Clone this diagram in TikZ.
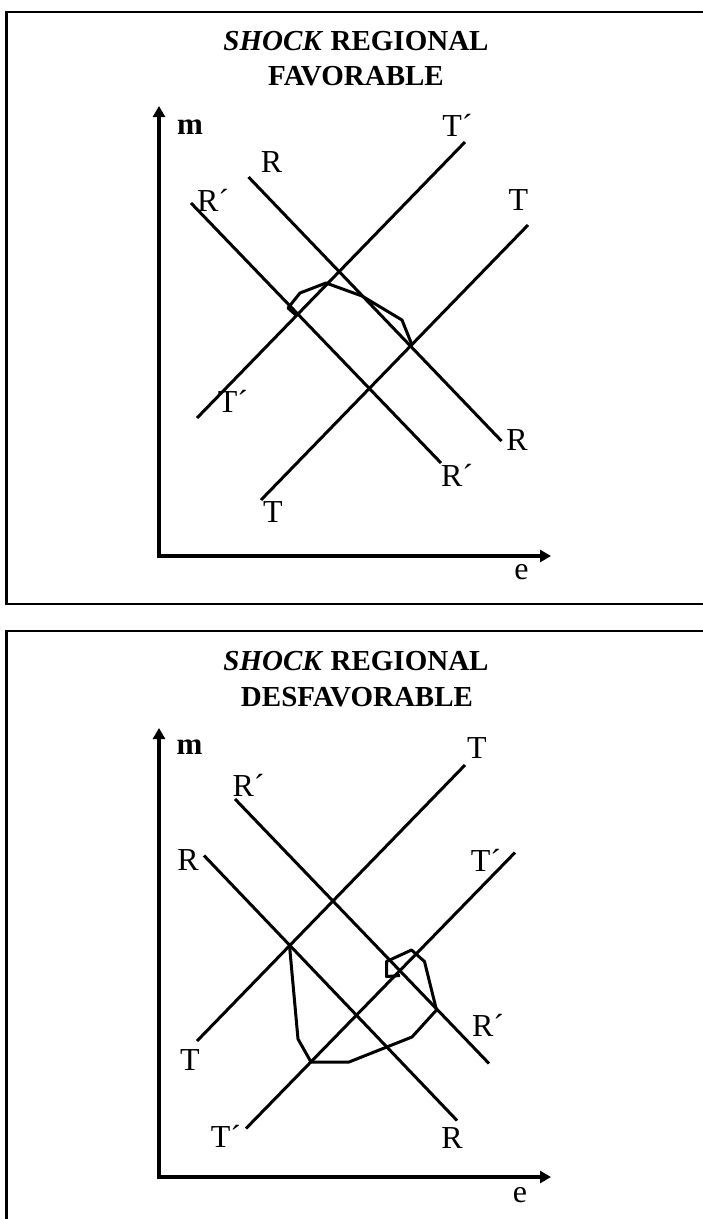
\documentclass[tikz,border=0pt]{standalone}
\usepackage{fontspec}
\setmainfont{Liberation Serif}
\usetikzlibrary{arrows.meta}

\begin{document}
\begin{tikzpicture}[
      x=1pt, y=-1pt,
      frame/.style={draw, line width=2.4pt},
      axis/.style={{Triangle[length=11pt,width=12pt]}-{Triangle[length=11pt,width=12pt]},
                   line width=3.3pt},
      curve/.style={line width=3pt, line join=round},
      lab/.style={inner sep=0pt, font=\fontsize{32}{32}\selectfont},
      ttl/.style={inner sep=0pt, anchor=base, font=\fontsize{29}{29}\selectfont\bfseries},
    ]
    \useasboundingbox (0,0) rectangle (702,1219);

    % shock regional favorable
    \draw[frame] (6.5,12) rectangle (705,604);
    \node[ttl] (ttl1) at (356,50.5) {\textit{SHOCK} REGIONAL};
    \node[ttl] (sub1) at (356,85.5) {FAVORABLE};
    \coordinate (o1) at (159,556);
    \coordinate (ym1) at (159,106);
    \coordinate (xm1) at (551,556);
    \draw[axis] (ym1) -- (o1) -- (xm1);
    \node[lab, font=\fontsize{31}{31}\selectfont\bfseries] (m1) at (190,127) {m};
    \node[lab] (e1) at (521.5,572.5) {e};

    \coordinate (tp1a) at (197,418);  \coordinate (tp1b) at (465,142);
    \coordinate (t1a) at (261,500);   \coordinate (t1b) at (528,225);
    \coordinate (r1a) at (248.5,177); \coordinate (r1b) at (501.5,441);
    \coordinate (rp1a) at (191,203);  \coordinate (rp1b) at (441,463);
    \draw[curve] (tp1a) -- (tp1b);
    \draw[curve] (t1a) -- (t1b);
    \draw[curve] (r1a) -- (r1b);
    \draw[curve] (rp1a) -- (rp1b);
    \node[lab] (ltp1b) at (457.5,125) {T´};
    \node[lab] (ltp1a) at (233,401) {T´};
    \node[lab] (lt1b) at (518.5,200) {T};
    \node[lab] (lt1a) at (273,512) {T};
    \node[lab] (lr1a) at (271.5,162) {R};
    \node[lab] (lr1b) at (517,440) {R};
    \node[lab] (lrp1a) at (213,200) {R´};
    \node[lab] (lrp1b) at (457,475) {R´};
    \draw[curve] (297,316) -- (288,308) -- (300,293) -- (326,283) -- (362,296)
      -- (402,320) -- (412,345);

    % shock regional desfavorable
    \draw[frame] (6.5,631) rectangle (705,1222);
    \node[ttl] (ttl2) at (356,670) {\textit{SHOCK} REGIONAL};
    \node[ttl] (sub2) at (357,706.5) {DESFAVORABLE};
    \coordinate (o2) at (159,1177);
    \coordinate (ym2) at (159,728);
    \coordinate (xm2) at (551,1177);
    \draw[axis] (ym2) -- (o2) -- (xm2);
    \node[lab, font=\fontsize{31}{31}\selectfont\bfseries] (m2) at (189.5,747.5) {m};
    \node[lab] (e2) at (520,1195) {e};

    \coordinate (t2a) at (197,1041);    \coordinate (t2b) at (465,765);
    \coordinate (tp2a) at (246,1128.5); \coordinate (tp2b) at (515,852.5);
    \coordinate (rp2a) at (235,799);    \coordinate (rp2b) at (489,1063.5);
    \coordinate (r2a) at (204,855.5);   \coordinate (r2b) at (457,1120.5);
    \draw[curve] (t2a) -- (t2b);
    \draw[curve] (tp2a) -- (tp2b);
    \draw[curve] (rp2a) -- (rp2b);
    \draw[curve] (r2a) -- (r2b);
    \node[lab] (lt2b) at (477,748) {T};
    \node[lab] (lt2a) at (190,1060.5) {T};
    \node[lab] (ltp2b) at (486,860.5) {T´};
    \node[lab] (ltp2a) at (226,1136) {T´};
    \node[lab] (lrp2a) at (248.5,785) {R´};
    \node[lab] (lrp2b) at (488,1025.5) {R´};
    \node[lab] (lr2a) at (188,860.5) {R};
    \node[lab] (lr2b) at (452,1138) {R};
    \draw[curve] (289.5,945.5) -- (298,1039) -- (311,1062) -- (349,1062) -- (412,1037)
      -- (436.5,1010) -- (424.5,961.5) -- (411.5,950) -- (386.5,961.5)
      -- (386.5,976.5) -- (400,975.5);
  \end{tikzpicture}
\end{document}
